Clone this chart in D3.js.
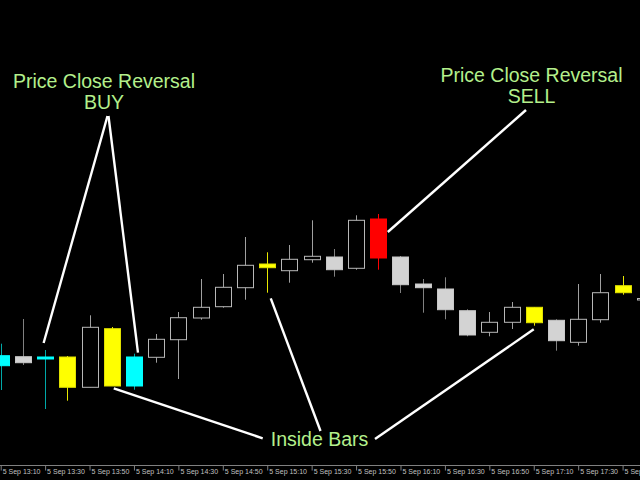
<!DOCTYPE html>
<html>
<head>
<meta charset="utf-8">
<script src="https://cdn.jsdelivr.net/npm/d3@7"></script>
<style>
  html, body { margin: 0; padding: 0; background: #000; }
  svg { display: block; }
</style>
</head>
<body>
<svg id="chart" width="640" height="480"></svg>
<script>
// ---------------- DATA ----------------
const times  = ["13:10","13:20","13:30","13:40","13:50","14:00","14:10","14:20","14:30","14:40",
                "14:50","15:00","15:10","15:20","15:30","15:40","15:50","16:00","16:10","16:20",
                "16:30","16:40","16:50","17:00","17:10","17:20","17:30","17:40","17:50","18:00"];
const opens  = [1.291143,1.291233,1.291210,1.291230,1.290927,1.291513,1.290940,1.291227,1.291403,1.291620,
                1.291733,1.291923,1.292123,1.292093,1.292203,1.292230,1.292117,1.292610,1.292230,1.291960,
                1.291910,1.291693,1.291477,1.291577,1.291727,1.291597,1.291377,1.291603,1.291873,1.291800];
const highs  = [1.291363,1.291610,1.291300,1.291240,1.291647,1.291530,1.291263,1.291460,1.291680,1.292010,
                1.292060,1.292430,1.292277,1.292350,1.292597,1.292310,1.292647,1.292660,1.292240,1.292010,
                1.292027,1.291707,1.291680,1.291780,1.291727,1.291607,1.291960,1.292060,1.292040,1.291900];
const lows   = [1.290900,1.291150,1.290710,1.290793,1.290927,1.290940,1.290903,1.291173,1.291010,1.291603,
                1.291723,1.291803,1.291873,1.291973,1.292173,1.292033,1.292103,1.292103,1.291870,1.291673,
                1.291607,1.291437,1.291437,1.291510,1.291543,1.291293,1.291343,1.291573,1.291853,1.291740];
const closes = [1.291243,1.291173,1.291230,1.290927,1.291527,1.290940,1.291230,1.291407,1.291623,1.291727,
                1.291927,1.292147,1.292160,1.292207,1.292237,1.292103,1.292597,1.292220,1.291953,1.291923,
                1.291703,1.291450,1.291577,1.291727,1.291573,1.291393,1.291607,1.291873,1.291943,1.291815];
// signal per bar: "" normal, "buy" = price close reversal BUY, "sell" = SELL, "inside" = inside bar
const signals = ["buy","","buy","inside","","inside","buy","","","",
                 "","","inside","","","","","sell","","",
                 "","","","","inside","","","","inside",""];
const tickLabels = ["13:10","13:30","13:50","14:10","14:30","14:50","15:10","15:30","15:50",
                    "16:10","16:30","16:50","17:10","17:30","17:50"];
const buyText    = ["Price Close Reversal", "BUY"];
const sellText   = ["Price Close Reversal", "SELL"];
const insideText = ["Inside Bars"];

// ---------------- SETUP ----------------
const W = 640, H = 480;
const svg = d3.select("#chart");
svg.append("rect").attr("width", W).attr("height", H).attr("fill", "#000");

const parse = d3.timeParse("%Y-%m-%d %H:%M");
const bars = times.map((t, i) => ({
  t: parse("2013-09-05 " + t), o: opens[i], h: highs[i], l: lows[i], c: closes[i], s: signals[i], i
}));

const x = d3.scaleTime()
  .domain([bars[0].t, bars[28].t])
  .range([0.7, 622.6]);
const y = d3.scaleLinear()
  .domain([1.2900, 1.2948])
  .range([480, 0]);

const colors = {
  buy:    { body: "#00ffff", stroke: "#00ffff", wick: "#00a8a8" },
  sell:   { body: "#ff0000", stroke: "#ff0000", wick: "#ff0000" },
  inside: { body: "#ffff00", stroke: "#e0e000", wick: "#e8e800" },
  bull:   { body: "#000000", stroke: "#b8b8b8", wick: "#a0a0a0" },
  bear:   { body: "#d3d3d3", stroke: "#c8c8c8", wick: "#808080" }
};
const styleOf = d => d.s ? colors[d.s] : (d.c >= d.o ? colors.bull : colors.bear);
const bodyW = 16;

// ---------------- AXIS ----------------
const tickDates = tickLabels.map(t => parse("2013-09-05 " + t));
const fmt = d3.timeFormat("%-d %b %H:%M");
const axisG = svg.append("g")
  .attr("transform", "translate(0,465.5)")
  .call(d3.axisBottom(x).tickValues(tickDates).tickFormat(fmt).tickSize(5).tickSizeOuter(0));
axisG.select(".domain").attr("stroke", "#808080").attr("d", "M0,0H640");
axisG.selectAll(".tick line").attr("stroke", "#808080");
axisG.selectAll(".tick text")
  .attr("fill", "#c0c0c0")
  .attr("font-family", "'Liberation Sans', Arial, sans-serif")
  .attr("font-size", "7px")
  .attr("text-anchor", "start")
  .attr("x", 1.5)
  .attr("y", 4)
  .attr("dy", "0.71em");

// ---------------- CANDLES ----------------
const candles = svg.append("g").selectAll("g").data(bars).join("g");
candles.append("line")
  .attr("x1", d => Math.round(x(d.t)) + 0.5)
  .attr("x2", d => Math.round(x(d.t)) + 0.5)
  .attr("y1", d => y(d.h))
  .attr("y2", d => y(d.l))
  .attr("stroke", d => styleOf(d).wick)
  .attr("stroke-width", 1);
candles.append("rect")
  .attr("x", d => Math.round(x(d.t)) - bodyW / 2 + 0.5)
  .attr("width", bodyW)
  .attr("y", d => y(Math.max(d.o, d.c)))
  .attr("height", d => Math.max(1.5, y(Math.min(d.o, d.c)) - y(Math.max(d.o, d.c))))
  .attr("fill", d => styleOf(d).body)
  .attr("stroke", d => styleOf(d).stroke)
  .attr("stroke-width", 1);

// ---------------- ANNOTATIONS ----------------
const green = "#b4f08c";
const font = "'Liberation Sans', Arial, sans-serif";
function label(lines, cx, baseline, lh) {
  const t = svg.append("text")
    .attr("fill", green).attr("font-family", font).attr("font-size", "19.5px")
    .attr("text-anchor", "middle");
  lines.forEach((s, k) => t.append("tspan").attr("x", cx).attr("y", baseline + k * lh).text(s));
}
label(buyText, 104, 88.3, 20.7);
label(sellText, 531.5, 81.7, 21);
label(insideText, 319.5, 445.7, 0);

const P = i => bars[i];
const pointers = [
  // BUY
  [[107.5, 116], [x(P(2).t) - 1.5, y(P(2).h) - 7]],
  [[108.5, 116], [x(P(6).t) + 4, y(P(6).h) - 1]],
  // SELL
  [[526, 110], [x(P(17).t) + 9.5, y(P(17).c) - 26]],
  // Inside bars
  [[262.7, 438.3], [x(P(5).t) + 2, y(P(5).c) + 2.3]],
  [[320.5, 431], [x(P(12).t) + 3.5, y(P(12).l) + 5.6]],
  [[375, 439], [x(P(24).t) + 0, y(P(24).l) + 3.6]]
];
svg.append("g").selectAll("line").data(pointers).join("line")
  .attr("x1", d => d[0][0]).attr("y1", d => d[0][1])
  .attr("x2", d => d[1][0]).attr("y2", d => d[1][1])
  .attr("stroke", "#ffffff").attr("stroke-width", 2.4).attr("stroke-linecap", "butt");
</script>
</body>
</html>
